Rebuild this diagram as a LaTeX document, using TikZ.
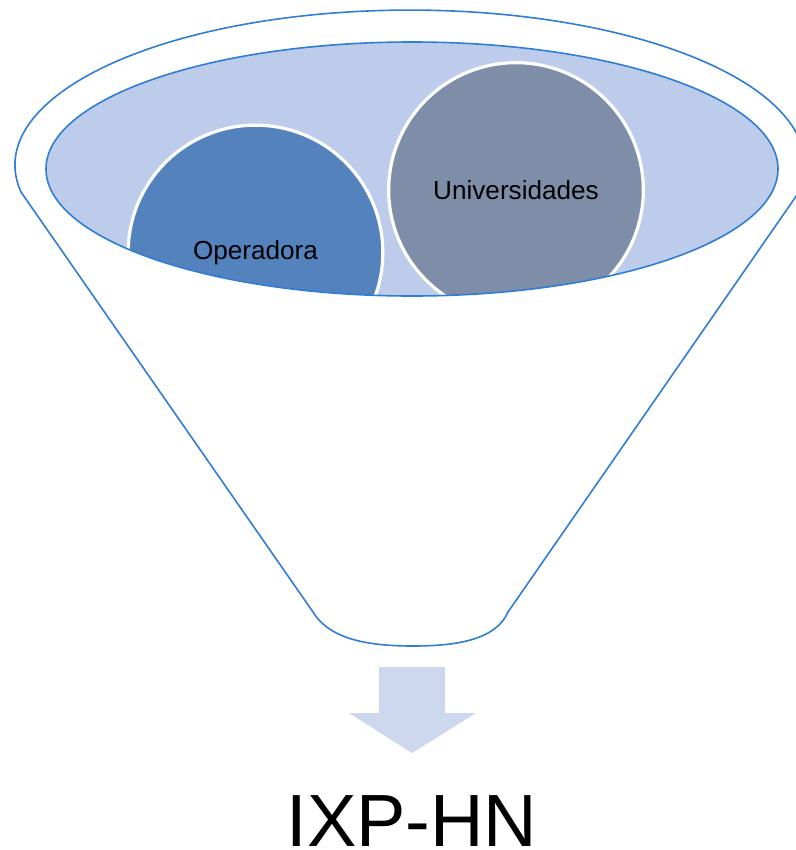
\documentclass[tikz,border=0pt]{standalone}
\usepackage{fontspec}
\setmainfont{Liberation Sans}
\definecolor{funnelblue}{RGB}{47,125,212}
\definecolor{innerfill}{RGB}{189,204,234}
\definecolor{opfill}{RGB}{84,130,189}
\definecolor{unfill}{RGB}{127,142,168}
\definecolor{arrowfill}{RGB}{205,216,238}
\tikzset{
  outline/.style={draw=funnelblue, line width=1.2pt},
  ball/.style={circle, draw=white, line width=2.4pt, inner sep=0pt, minimum size=191pt, font=\fontsize{19.6}{22}\selectfont, text=black},
}
\begin{document}
\begin{tikzpicture}[x=0.75pt,y=0.75pt]
\useasboundingbox (0,0) rectangle (796,-850);
% outer funnel
\draw[outline, line join=round] (21,-192) arc[start angle=190, end angle=-10, x radius=395, y radius=155]
  -- (508,-612) .. controls (496,-640) and (456,-646) .. (413,-646)
  .. controls (370,-646) and (330,-640) .. (313,-612) -- cycle;
% inner ellipse
\fill[innerfill] (412,-169) ellipse[x radius=366, y radius=127];
\begin{scope}
  \clip (412,-169) ellipse[x radius=366, y radius=127];
  \node[ball, fill=opfill] (op) at (255.5,-252.5) {Operadora};
  \node[ball, fill=unfill] (un) at (516,-190) {Universidades};
\end{scope}
\draw[outline] (412,-169) ellipse[x radius=366, y radius=127];
% block arrow
\fill[arrowfill] (379,-667) -- (445,-667) -- (445,-713) -- (476,-713) -- (412,-753) -- (349,-713) -- (379,-713) -- cycle;
\node[font=\fontsize{55.5}{60}\selectfont, text=black, anchor=base, inner sep=0pt, text depth=0pt] (ixp) at (412,-846) {IXP-HN};
\end{tikzpicture}
\end{document}
